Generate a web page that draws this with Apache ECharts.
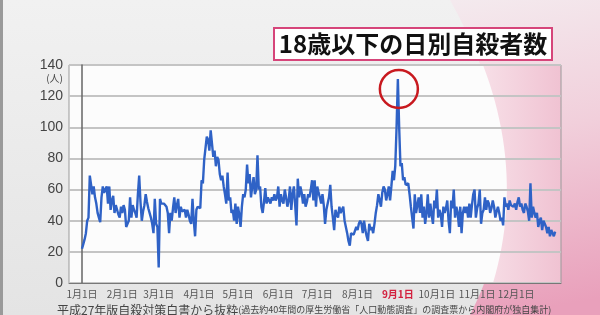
<!DOCTYPE html>
<html><head><meta charset="utf-8">
<script src="https://cdn.jsdelivr.net/npm/echarts@6/dist/echarts.min.js"></script>
<style>html,body{margin:0;padding:0;background:#e9e9e9}#c{width:600px;height:315px}</style>
</head><body><div id="c"></div>
<script>
const titleText = '18歳以下の日別自殺者数';
const unitText = '(人)';
const footMain = '平成27年版自殺対策白書から抜粋';
const footSub = '(過去約40年間の厚生労働省「人口動態調査」の調査票から内閣府が独自集計)';
const monthLabels = ['1月1日','2月1日','3月1日','4月1日','5月1日','6月1日','7月1日','8月1日','9月1日','10月1日','11月1日','12月1日'];
const monthStartDays = [0,31,59,90,120,151,181,212,243,273,304,334];
const highlightLabel = '9月1日';
const yMin = 0, yMax = 140, yStep = 20;

const jan = [22,25,28,32,40,42,69,70,57,62,55,51,45,42,39,55,62,58,60,62,51,62,47,53,56,45,50,49,44,42,49];
const feb = [45,50,47,36,38,40,55,42,50,47,45,42,57,69,52,40,46,50,57,52,48,45,42,38,32,54,38,36];
const mar = [10,54,51,52,51,51,49,45,32,45,40,48,55,45,50,54,42,49,46,45,47,42,47,44,40,38,54,40,30,47,49];
const apr = [49,48,66,64,79,80,94,92,85,98,99,81,85,75,81,79,70,66,69,62,57,51,71,53,55,45,47,40,51,38];
const may = [49,44,36,49,57,55,60,76,64,70,55,62,68,57,60,82,60,62,49,45,52,61,51,55,53,51,55,53,57,53,55];
const jun = [62,49,57,53,51,60,55,49,53,62,47,57,62,50,37,67,55,62,58,51,57,49,52,57,55,60,66,53,66,49];
const jul = [62,58,55,51,57,50,38,47,51,55,63,49,42,34,47,44,42,49,45,47,49,40,36,32,27,24,32,33,31,30,36];
const aug = [34,38,40,38,32,40,34,30,27,38,34,36,32,38,45,50,57,53,49,58,62,60,53,57,62,53,62,72,66,75,100];
const sep = [131,100,75,77,66,68,63,64,64,57,49,42,35,57,45,50,55,45,57,42,49,38,45,57,42,51,44,38,53,48];
const oct = [60,42,47,44,36,49,45,48,53,40,32,53,48,60,42,49,45,36,49,32,45,49,45,49,42,51,42,50,57,60,42];
const nov = [48,51,60,38,45,47,55,47,53,51,45,48,53,49,42,46,49,45,40,42,37,55,49,51,47,53,50,49,49,51];
const dec = [47,52,55,49,51,47,45,51,49,46,40,64,42,49,45,42,45,36,40,42,34,40,38,36,32,36,30,34,32,30,33];

const dailyCounts = [].concat(jan,feb,mar,apr,may,jun,jul,aug,sep,oct,nov,dec);
const seriesData = dailyCounts.map((v,i)=>[i,v]);
const peakIdx = dailyCounts.indexOf(Math.max(...dailyCounts));
const labelMap = {};
monthStartDays.forEach((d,i)=>{labelMap[d]=monthLabels[i];});

// decorative curved edge helper (background shapes only)
function curve(p0, c, p1, n){
  const pts=[];
  for(let i=0;i<=n;i++){const t=i/n,u=1-t;pts.push([u*u*p0[0]+2*u*t*c[0]+t*t*p1[0], u*u*p0[1]+2*u*t*c[1]+t*t*p1[1]]);}
  return pts;
}
const outerPink = [[600,0],[600,315]].concat(curve([470,315],[545,170],[450,0],24));
const innerPink = curve([483,65],[525,175],[493,283],24).concat([[561,283],[561,65]]);

const chart = echarts.init(document.getElementById('c'), null, {renderer:'canvas'});
const bgGraphics = [
  {type:'rect', shape:{x:0,y:0,width:600,height:315}, style:{fill:new echarts.graphic.LinearGradient(0,0,0,1,[{offset:0,color:'#f1f1f1'},{offset:1,color:'#e4e4e4'}])}, z:-20, silent:true},
  {type:'polygon', shape:{points:outerPink}, style:{fill:new echarts.graphic.LinearGradient(0,0,0.4,1,[{offset:0,color:'#f4eaee'},{offset:0.45,color:'#f1cfdb'},{offset:1,color:'#e9a0bb'}])}, z:-19, silent:true},
  {type:'rect', shape:{x:0,y:0,width:3,height:315}, style:{fill:'#9a9a9a'}, z:-18, silent:true},
  {type:'rect', shape:{x:69,y:65,width:492,height:218}, style:{fill:'#fcfcfc'}, z:-17, silent:true},
  {type:'polygon', shape:{points:innerPink}, style:{fill:new echarts.graphic.LinearGradient(0,0,1,0,[{offset:0,color:'#f7dfe7'},{offset:1,color:'#f0c2d2'}])}, z:-16, silent:true},
  {type:'rect', shape:{x:274,y:28,width:278,height:32}, style:{fill:'#ffffff', stroke:'#d6457a', lineWidth:2}, z:5},
  {type:'text', x:413, y:44, style:{text:titleText, font:'bold 24px "Noto Sans CJK JP"', fill:'#111', align:'center', verticalAlign:'middle'}, z:6},
  {type:'text', x:63, y:78, style:{text:unitText, font:'10px "Noto Sans CJK JP"', fill:'#444', align:'right', verticalAlign:'middle'}, z:6},
  {type:'text', x:57, y:304, style:{text:'{a|'+footMain+'}{b|'+footSub+'}', rich:{a:{font:'12px "Noto Sans CJK JP"', fill:'#444'}, b:{font:'9px "Noto Sans CJK JP"', fill:'#444'}}, verticalAlign:'top'}, z:6}
];

chart.setOption({
  animation:false,
  backgroundColor:'transparent',
  grid:{left:69, top:65, right:39, bottom:32, show:true, borderColor:'#9a9a9a', borderWidth:1, backgroundColor:'transparent'},
  xAxis:{type:'value', min:-10, max:368.5,
    axisLine:{show:true, onZero:false, lineStyle:{color:'#777', width:1}},
    axisTick:{show:false},
    splitLine:{show:false},
    axisLabel:{customValues:monthStartDays, margin:6, fontSize:10, color:'#555', fontFamily:'"Noto Sans CJK JP"',
      formatter:v=>{const t=labelMap[v]; return t===highlightLabel?'{r|'+t+'}':t;},
      rich:{r:{color:'#d3213f', fontSize:10, fontFamily:'"Noto Sans CJK JP"', fontWeight:'bold'}}}
  },
  yAxis:{type:'value', min:yMin, max:yMax, interval:yStep,
    axisLine:{show:true, lineStyle:{color:'#666', width:1.5}},
    axisTick:{show:false},
    splitLine:{show:true, lineStyle:{color:'#c4c4c4', width:2}},
    axisLabel:{margin:6, fontSize:14, color:'#444', fontFamily:'"Liberation Sans"'}
  },
  series:[{type:'line', data:seriesData, showSymbol:false, lineStyle:{color:'#2f62c6', width:2.4}, z:3}],
  graphic:bgGraphics
});

const p = chart.convertToPixel({gridIndex:0},[peakIdx, dailyCounts[peakIdx]]);
chart.setOption({graphic:bgGraphics.concat([
  {type:'circle', shape:{cx:p[0]+1, cy:p[1]+10, r:19}, style:{fill:'none', stroke:'#c8191f', lineWidth:2.5}, z:10}
])});
</script></body></html>
